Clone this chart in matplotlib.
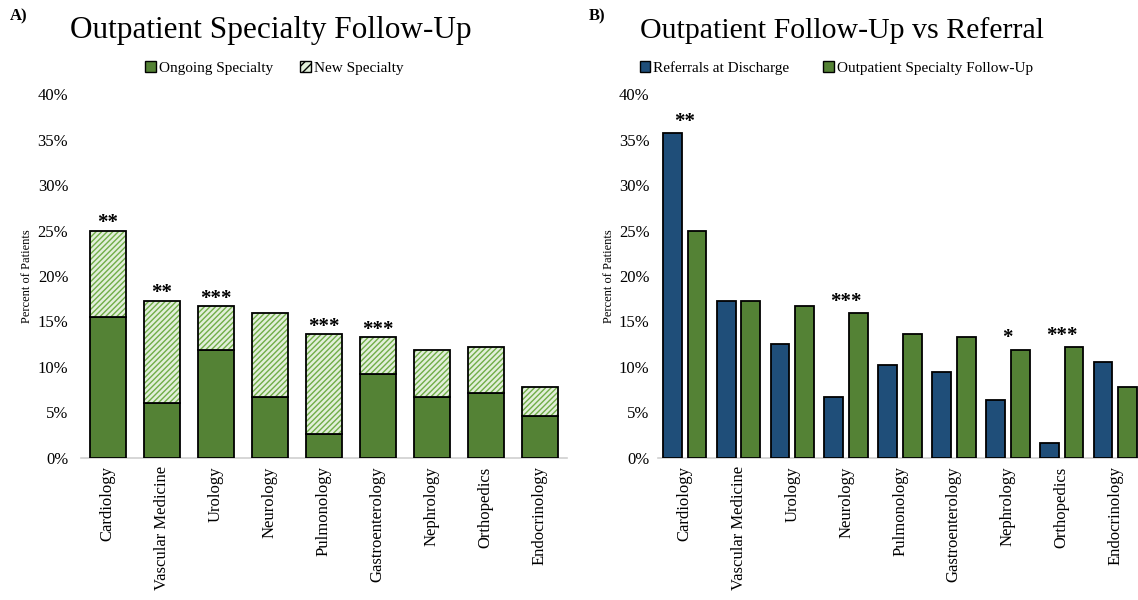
import numpy as np
import matplotlib.pyplot as plt
from matplotlib.patches import Patch

plt.rcParams['font.family'] = ['Liberation Serif', 'DejaVu Serif']

specialties = ['Cardiology', 'Vascular Medicine', 'Urology', 'Neurology',
               'Pulmonology', 'Gastroenterology', 'Nephrology', 'Orthopedics',
               'Endocrinology']

# percent of patients
ongoing = [15.5, 6.0, 11.9, 6.7, 2.6, 9.2, 6.7, 7.1, 4.6]
new_spec = [9.5, 11.3, 4.8, 9.2, 11.0, 4.1, 5.2, 5.1, 3.2]
referrals = [35.7, 17.3, 12.5, 6.7, 10.2, 9.5, 6.4, 1.6, 10.6]
followup = [o + n for o, n in zip(ongoing, new_spec)]

sig_a = ['**', '**', '***', '', '***', '***', '', '', '']
sig_b = ['**', '', '', '***', '', '', '*', '***', '']

GREEN = '#548235'
BLUE = '#1f4e79'
HATCH_GREEN = '#70ad47'

fig = plt.figure(figsize=(11.38, 6.0), dpi=100)
ax_a = fig.add_axes([0.071, 0.2367, 0.427, 0.6066])
ax_b = fig.add_axes([0.578, 0.2367, 0.422, 0.6066])

x = np.arange(len(specialties))


def style_axis(ax, xmax, pad):
    ax.set_ylim(0, 40)
    ax.set_xlim(-0.5, xmax)
    ax.set_yticks(np.arange(0, 41, 5))
    ax.set_yticklabels([f'{v}%' for v in range(0, 41, 5)], fontsize=12)
    ax.set_xticks(x)
    ax.set_xticklabels(specialties, rotation=90, fontsize=12)
    ax.tick_params(axis='x', length=0, pad=6)
    ax.tick_params(axis='y', length=0, pad=pad)
    for s in ['top', 'right', 'left']:
        ax.spines[s].set_visible(False)
    ax.spines['bottom'].set_color('#d0d0d0')
    ax.spines['bottom'].set_linewidth(1.2)
    ax.set_ylabel('Percent of Patients', fontsize=9, labelpad=3)


# A) stacked bars
w = 0.67
ax_a.bar(x, ongoing, w, color=GREEN, edgecolor='black', linewidth=1.3, zorder=3)
ax_a.bar(x, new_spec, w, bottom=ongoing, color='#e2efda', edgecolor=HATCH_GREEN,
         hatch='//////', linewidth=0, zorder=3)
ax_a.bar(x, new_spec, w, bottom=ongoing, fill=False, edgecolor='black',
         linewidth=1.3, zorder=4)
for xi, top, s in zip(x, followup, sig_a):
    if s:
        ax_a.annotate(s, (xi, top), xytext=(0, 1.5), textcoords='offset points',
                      ha='center', va='baseline', fontsize=15, fontweight='bold',
                      annotation_clip=False)
style_axis(ax_a, 8.5, 9)

# B) grouped bars
bw = 0.35
off = 0.23
ax_b.bar(x - off, referrals, bw, color=BLUE, edgecolor='black', linewidth=1.3, zorder=3)
ax_b.bar(x + off, followup, bw, color=GREEN, edgecolor='black', linewidth=1.3, zorder=3)
for xi, r, f, s in zip(x, referrals, followup, sig_b):
    if s:
        ax_b.annotate(s, (xi, max(r, f)), xytext=(0, 4.5), textcoords='offset points',
                      ha='center', va='baseline', fontsize=15, fontweight='bold',
                      annotation_clip=False)
style_axis(ax_b, 8.42, 6)

# titles and panel letters
fig.text(0.238, 0.937, 'Outpatient Specialty Follow-Up', ha='center', va='baseline',
         fontsize=22.5)
fig.text(0.009, 0.972, 'A)', ha='left', va='center', fontsize=12, fontweight='bold')
fig.text(0.740, 0.937, 'Outpatient Follow-Up vs Referral', ha='center', va='baseline',
         fontsize=21.5)
fig.text(0.517, 0.972, 'B)', ha='left', va='center', fontsize=12, fontweight='bold')

# legends
leg_a = [Patch(facecolor=GREEN, edgecolor='black', label='Ongoing Specialty'),
         Patch(facecolor='#e2efda', edgecolor='black', hatch='////',
               label='New Specialty')]
fig.legend(handles=leg_a, loc='center', bbox_to_anchor=(0.241, 0.887), ncol=2,
           frameon=False, fontsize=11, handlelength=0.7, handleheight=0.7,
           handletextpad=0.2, columnspacing=1.8)
leg_b = [Patch(facecolor=BLUE, edgecolor='black', label='Referrals at Discharge'),
         Patch(facecolor=GREEN, edgecolor='black',
               label='Outpatient Specialty Follow-Up')]
fig.legend(handles=leg_b, loc='center', bbox_to_anchor=(0.735, 0.887), ncol=2,
           frameon=False, fontsize=11, handlelength=0.7, handleheight=0.7,
           handletextpad=0.2, columnspacing=2.2)

fig.savefig('out.png', dpi=100)
